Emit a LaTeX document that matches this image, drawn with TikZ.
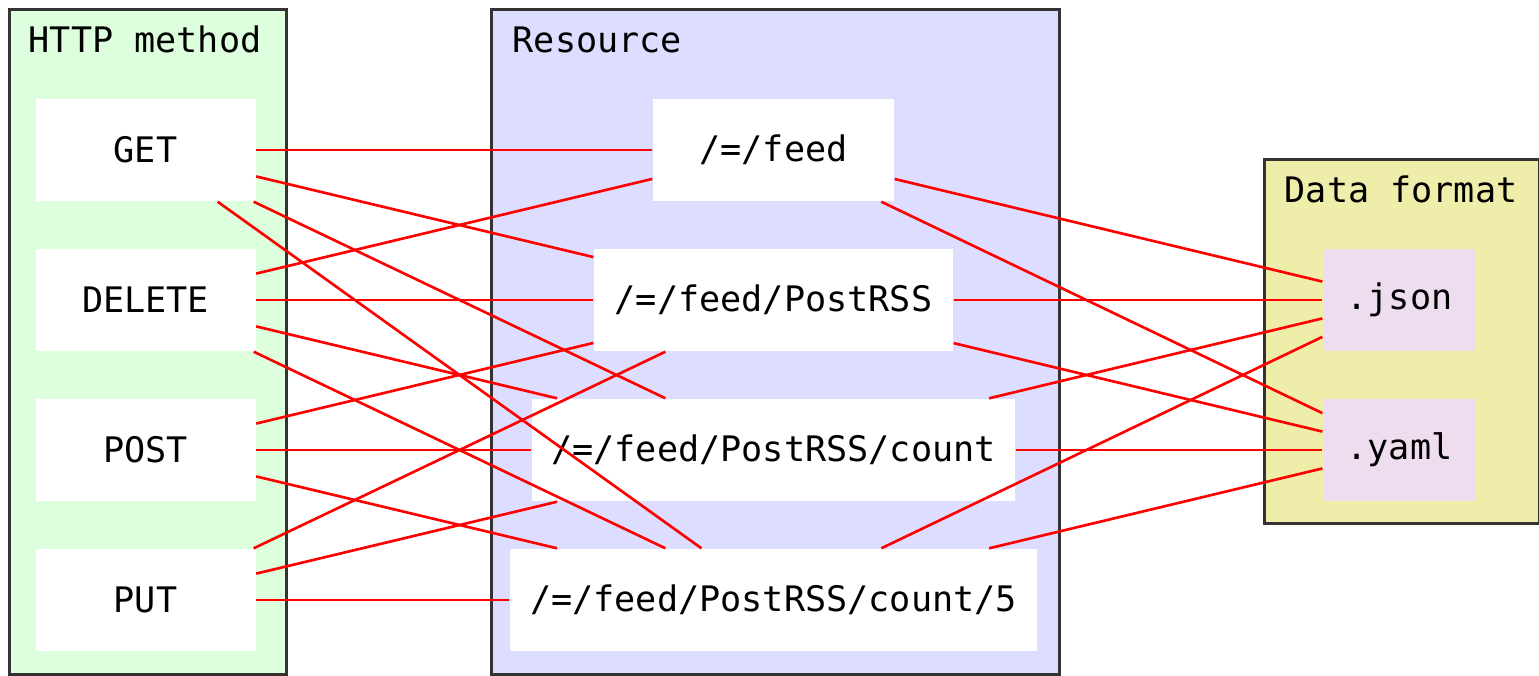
\documentclass[tikz,border=0pt]{standalone}
\usepackage{fontspec}
\setmonofont{DejaVu Sans Mono}
\usetikzlibrary{positioning}
\definecolor{methodbg}{HTML}{DDFFDD}
\definecolor{resourcebg}{HTML}{DDDDFF}
\definecolor{formatbg}{HTML}{EEEEAA}
\definecolor{formatbox}{HTML}{EEDDEE}
\tikzstyle{group} = [rectangle, draw=black!80, line width=0.8pt, anchor=north west, inner sep=0pt]
\tikzstyle{title} = [anchor=base west, inner sep=0pt]
\tikzstyle{method} = [rectangle, fill=white, minimum width=2.2cm, minimum height=1.02cm, inner sep=0pt]
\tikzstyle{resource} = [rectangle, fill=white, minimum height=1.02cm, inner sep=0pt]
\tikzstyle{format} = [rectangle, fill=formatbox, minimum width=1.53cm, minimum height=1.02cm, inner sep=0pt]
\tikzstyle{line} = [draw, red, line width=0.75pt]

\begin{document}
\begin{tikzpicture}[node distance = 1.5cm, font=\ttfamily\fontsize{10}{12}\selectfont]
		\useasboundingbox (0,0) rectangle (15.39,-6.75);
		\node [group, fill=methodbg, minimum width=2.77cm, minimum height=6.65cm] (methods) at (0.08,-0.08) {};
		\node [group, fill=resourcebg, minimum width=5.68cm, minimum height=6.65cm] (resources) at (4.9,-0.08) {};
		\node [group, fill=formatbg, minimum width=2.75cm, minimum height=3.64cm] (formats) at (12.63,-1.58) {};
		\node [title] (methodtitle) at (0.28,-0.52) {HTTP method};
		\node [title] (resourcetitle) at (5.12,-0.52) {Resource};
		\node [title] (formattitle) at (12.84,-2.02) {Data format};
		
		\node [method] (get) at (1.455,-1.5) {GET};
		\node [method, below of=get] (delete) {DELETE};
		\node [method, below of=delete] (post) {POST};
		\node [method, below of=post] (put) {PUT};
		
		\node [resource, minimum width=2.41cm] (feed) at (7.735,-1.5) {/=/feed};
		\node [resource, minimum width=3.59cm, below of=feed] (postrss) {/=/feed/PostRSS};
		\node [resource, minimum width=4.83cm, below of=postrss] (count) {/=/feed/PostRSS/count};
		\node [resource, minimum width=5.27cm, below of=count] (countfive) {/=/feed/PostRSS/count/5};
		
		\node [format] (json) at (13.995,-3.0) {.json};
		\node [format, below of=json] (yaml) {.yaml};
		
		\path [line] (get) -- (feed);
		\path [line] (get) -- (postrss);
		\path [line] (get) -- (count);
		\path [line] (get) -- (countfive);
		\path [line] (delete) -- (feed);
		\path [line] (delete) -- (postrss);
		\path [line] (delete) -- (count);
		\path [line] (delete) -- (countfive);
		\path [line] (post) -- (postrss);
		\path [line] (post) -- (count);
		\path [line] (post) -- (countfive);
		\path [line] (put) -- (postrss);
		\path [line] (put) -- (count);
		\path [line] (put) -- (countfive);
		
		\path [line] (feed) -- (json);
		\path [line] (feed) -- (yaml);
		\path [line] (postrss) -- (json);
		\path [line] (postrss) -- (yaml);
		\path [line] (count) -- (json);
		\path [line] (count) -- (yaml);
		\path [line] (countfive) -- (json);
		\path [line] (countfive) -- (yaml);
		\end{tikzpicture}
\end{document}
